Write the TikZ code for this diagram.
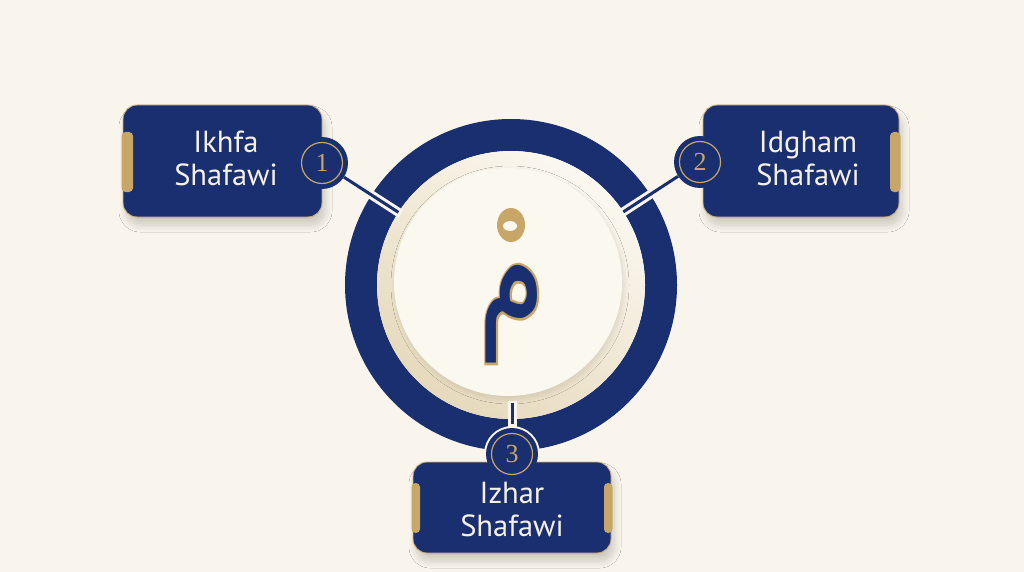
\documentclass[tikz,border=0pt]{standalone}
\usepackage{fontspec}
\setmainfont{PT Sans}
\newfontfamily\arabicfont[Script=Arabic]{DejaVu Sans}
\newfontfamily\arabicbold[Script=Arabic,FakeBold=3]{DejaVu Sans}
\newfontfamily\numfont{Liberation Serif}
\TeXXeTstate=1
\usetikzlibrary{calc,shadows.blur}
\definecolor{navy}{RGB}{26,47,112}
\definecolor{gold}{RGB}{200,166,104}
\definecolor{bgc}{RGB}{249,245,236}
\definecolor{rimdark}{RGB}{230,217,188}
\definecolor{rimlight}{RGB}{251,248,240}
\definecolor{disk}{RGB}{251,248,240}
\definecolor{txt}{RGB}{246,241,229}
\begin{document}
\begin{tikzpicture}[x=1pt,y=-1pt,
  box/.style={draw=gold!85!white, line width=0.9pt, fill=navy, rounded corners=14pt,
    blur shadow={shadow xshift=3pt, shadow yshift=-8pt, shadow blur steps=12, shadow opacity=18, shadow blur radius=7pt}},
  tab/.style={fill=gold, rounded corners=4pt},
  lbl/.style={text=txt, font=\fontsize{30.5}{33}\selectfont, align=center, inner sep=0pt},
  numc/.style={circle, fill=navy, minimum size=52pt, inner sep=0pt, text=gold,
    font=\numfont\fontsize{26}{26}\selectfont,
    path picture={\draw[gold, line width=1.2pt] (path picture bounding box.center) circle[radius=20.5pt];}},
  gapline/.style={draw=bgc, line width=9pt},
  conn/.style={draw=navy, line width=3pt},
]
% background
\fill[bgc] (0,0) rectangle (1024,572);
\useasboundingbox (0,0) rectangle (1024,572);

% ring
\coordinate (C) at (511,285);
\node[circle, minimum size=332pt, inner sep=0pt] (ring) at (C) {};
\fill[navy, even odd rule] (C) circle[radius=166pt] (C) circle[radius=134pt];
\shade[shading=axis, top color=rimlight, bottom color=rimdark, shading angle=-35] (C) circle[radius=134pt];
\node[circle, fill=disk, minimum size=228pt, inner sep=0pt,
  blur shadow={shadow xshift=2pt, shadow yshift=-3pt, shadow blur steps=10, shadow opacity=10, shadow blur radius=5pt}] (disk) at (508,282) {};

% number circles positions
\coordinate (p1) at (322,163);
\coordinate (p2) at (700,162);
\coordinate (p3) at (512,454);

% connectors: cream gaps through the ring
\draw[gapline] ($(C)!131pt!(p1)$) -- ($(C)!172pt!(p1)$);
\draw[gapline] ($(C)!131pt!(p2)$) -- ($(C)!172pt!(p2)$);
\draw[gapline] (512,401) -- (512,427);
\fill[bgc] (p3) circle[radius=28pt];

% boxes
\node[box, minimum width=199pt, minimum height=112pt] (b1) at (222.5,161) {};
\fill[tab] (121.5,132) rectangle (133,192);
\node[box, minimum width=196pt, minimum height=112pt] (b2) at (801,161) {};
\fill[tab] (890,132) rectangle (900.5,192);
\node[box, minimum width=198pt, minimum height=91pt] (b3) at (512,507.5) {};
\fill[tab] (411.5,483) rectangle (420,533);
\fill[tab] (604,483) rectangle (612.5,533);

% labels
\node[lbl] (t1) at (226,158) {Ikhfa\\Shafawi};
\node[lbl] (t2) at (808,159) {Idgham\\Shafawi};
\node[lbl] (t3) at (512,510) {Izhar\\Shafawi};

% number circles and connector lines
\node[numc] (n1) at (p1) {1};
\node[numc] (n2) at (p2) {2};
\node[numc] (n3) at (p3) {3};
\draw[conn] ($(C)!134pt!(n1.center)$) -- (n1);
\draw[conn] ($(C)!134pt!(n2.center)$) -- (n2);
\coordinate (c3top) at (512,403);
\coordinate (c3end) at (512,424);
\draw[conn] (c3top) -- (c3end);

% central letter
\node[text=gold, font=\arabicbold\fontsize{150}{150}\selectfont, inner sep=0pt] (meemo) at (512,314) {\scalebox{0.72}[1.07]{\beginR م\endR}};
\node[text=navy, font=\arabicfont\fontsize{150}{150}\selectfont, inner sep=0pt] (meem) at (512,314) {\scalebox{0.72}[1.07]{\beginR م\endR}};
% sukun
\fill[gold] (511,225) ellipse[x radius=14pt, y radius=17pt];
\fill[disk] (510,226) ellipse[x radius=7pt, y radius=5pt];
\end{tikzpicture}
\end{document}
